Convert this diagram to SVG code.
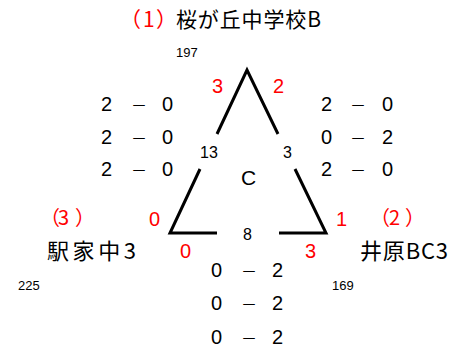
<svg xmlns="http://www.w3.org/2000/svg" width="469" height="351" viewBox="0 0 469 351">
<style>
text{font-family:"Liberation Sans","Noto Sans CJK JP",sans-serif;fill:#000}
.jp{font-family:"Noto Sans CJK JP","Liberation Sans",sans-serif}
.red{fill:#ff0000}
.t{font-size:21px}
.nm{font-size:22px}
.par{font-size:20px}
.sm{font-size:13px}
.md{font-size:16px}
.sc{font-size:20px}
.dash{font-family:"Noto Sans CJK JP",sans-serif;font-size:16px}
.ln{fill:none;stroke:#000;stroke-width:3;stroke-linejoin:miter;stroke-linecap:butt}
</style>
<rect width="469" height="351" fill="#fff"/>
<g id="connectors">
<polyline class="ln" points="217,134 247,70 278,134"/>
<polyline class="ln" points="200,169 170,233 217,233"/>
<polyline class="ln" points="295,169 326,233 279,233"/>
</g>
<g id="node-top">
<text class="jp t red" x="120 143 156" y="27">（1）</text>
<text class="jp t" x="176" y="27" textLength="145" lengthAdjust="spacing">桜が丘中学校B</text>
<text class="sm" x="176" y="57">197</text>
<text class="sc red" x="212" y="93">3</text>
<text class="sc red" x="273" y="93">2</text>
</g>
<g id="node-left">
<text class="jp par red" x="40 58 75" y="225">（3）</text>
<text class="jp nm" x="47" y="259" textLength="89" lengthAdjust="spacing">駅家中3</text>
<text class="sm" x="18" y="290">225</text>
<text class="sc red" x="149" y="226">0</text>
<text class="sc red" x="180" y="258">0</text>
</g>
<g id="node-right">
<text class="jp par red" x="370 389 405" y="225">（2）</text>
<text class="jp nm" x="360" y="259" textLength="88" lengthAdjust="spacing">井原BC3</text>
<text class="sm" x="332" y="290">169</text>
<text class="sc red" x="336" y="226">1</text>
<text class="sc red" x="305" y="258">3</text>
</g>
<g id="node-center">
<text class="md" x="200" y="158">13</text>
<text class="md" x="283" y="158">3</text>
<text class="sc" x="241" y="185" style="font-size:21px">C</text>
<text class="md" x="243" y="240">8</text>
</g>
<g id="scores-left">
<text class="sc"><tspan x="101" y="111">2</tspan> <tspan class="dash" x="131" y="111">－</tspan> <tspan x="162" y="111">0</tspan></text>
<text class="sc"><tspan x="101" y="144">2</tspan> <tspan class="dash" x="131" y="144">－</tspan> <tspan x="162" y="144">0</tspan></text>
<text class="sc"><tspan x="101" y="176">2</tspan> <tspan class="dash" x="131" y="176">－</tspan> <tspan x="162" y="176">0</tspan></text>
</g>
<g id="scores-right">
<text class="sc"><tspan x="321" y="111">2</tspan> <tspan class="dash" x="350" y="111">－</tspan> <tspan x="382" y="111">0</tspan></text>
<text class="sc"><tspan x="321" y="144">0</tspan> <tspan class="dash" x="350" y="144">－</tspan> <tspan x="382" y="144">2</tspan></text>
<text class="sc"><tspan x="321" y="176">2</tspan> <tspan class="dash" x="350" y="176">－</tspan> <tspan x="382" y="176">0</tspan></text>
</g>
<g id="scores-bottom">
<text class="sc"><tspan x="211" y="277">0</tspan> <tspan class="dash" x="241" y="277">－</tspan> <tspan x="272" y="277">2</tspan></text>
<text class="sc"><tspan x="211" y="310">0</tspan> <tspan class="dash" x="241" y="310">－</tspan> <tspan x="272" y="310">2</tspan></text>
<text class="sc"><tspan x="211" y="344">0</tspan> <tspan class="dash" x="241" y="344">－</tspan> <tspan x="272" y="344">2</tspan></text>
</g>
</svg>
